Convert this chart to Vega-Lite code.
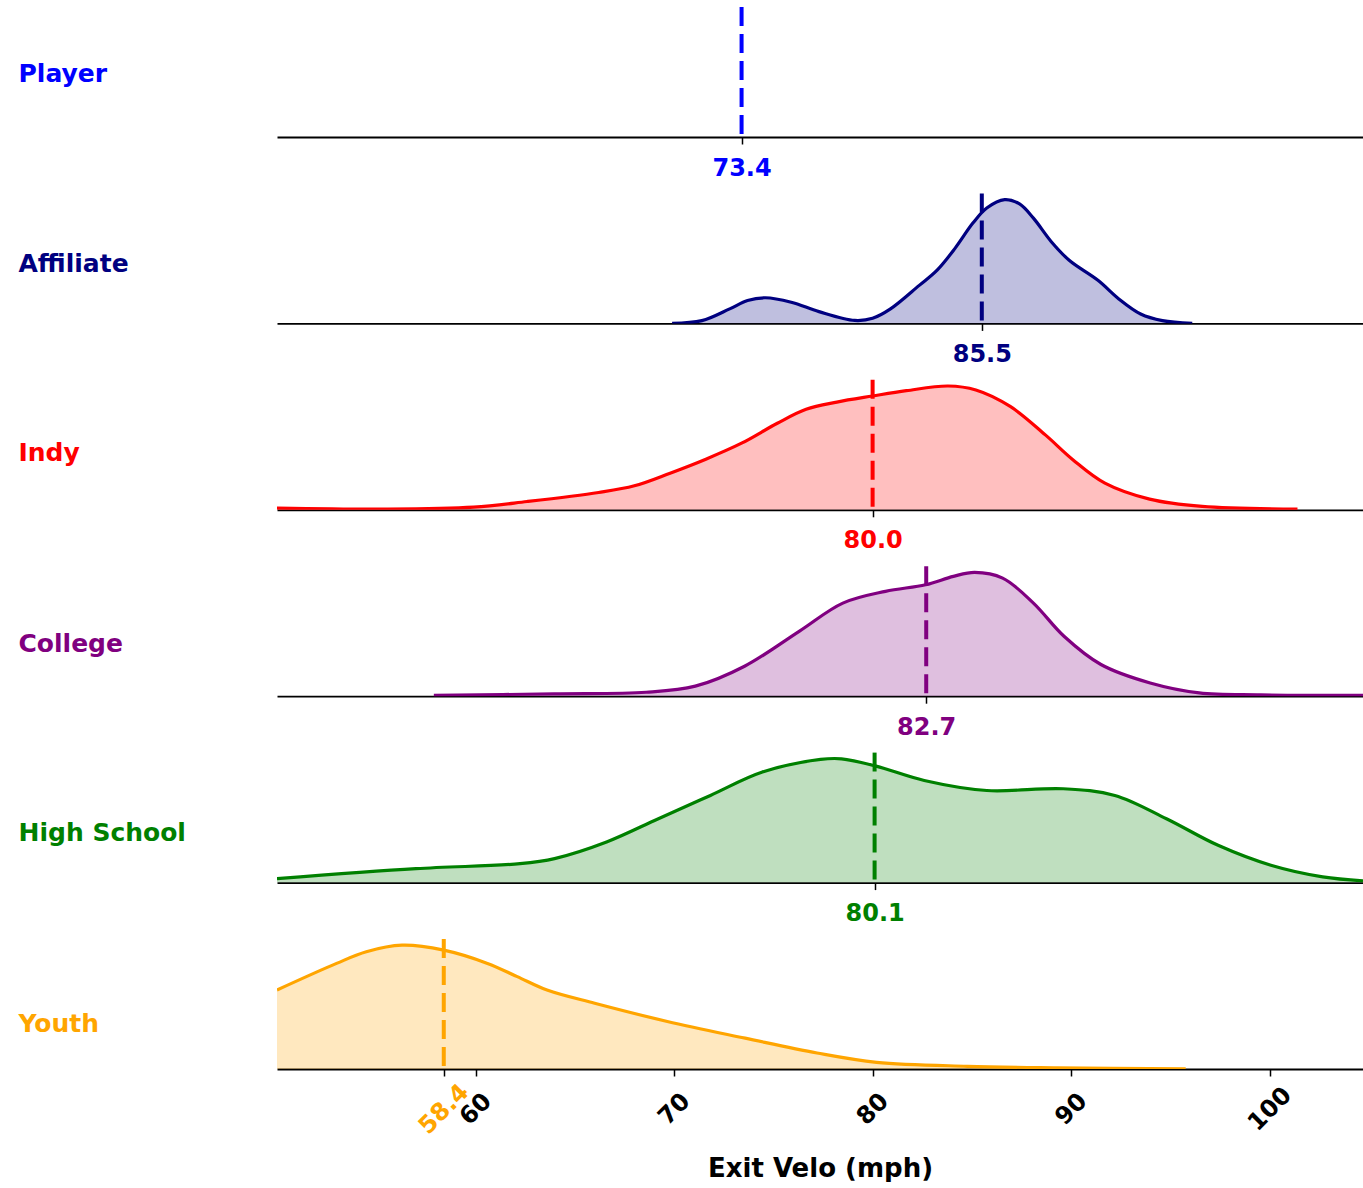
{
  "$schema": "https://vega.github.io/schema/vega-lite/v6.json",
  "padding": {"left": 18, "top": 5, "right": 0, "bottom": 0},
  "background": "white",
  "datasets": {
    "density": [
      {"group": "Affiliate", "mph": 69.9, "density": 0.0},
      {"group": "Affiliate", "mph": 71.4, "density": 0.022},
      {"group": "Affiliate", "mph": 72.8, "density": 0.117},
      {"group": "Affiliate", "mph": 73.7, "density": 0.185},
      {"group": "Affiliate", "mph": 74.6, "density": 0.207},
      {"group": "Affiliate", "mph": 75.9, "density": 0.171},
      {"group": "Affiliate", "mph": 77.3, "density": 0.095},
      {"group": "Affiliate", "mph": 79.1, "density": 0.024},
      {"group": "Affiliate", "mph": 80.0, "density": 0.041},
      {"group": "Affiliate", "mph": 80.9, "density": 0.117},
      {"group": "Affiliate", "mph": 82.35, "density": 0.307},
      {"group": "Affiliate", "mph": 83.25, "density": 0.43},
      {"group": "Affiliate", "mph": 84.15, "density": 0.606},
      {"group": "Affiliate", "mph": 85.05, "density": 0.81},
      {"group": "Affiliate", "mph": 85.75, "density": 0.932},
      {"group": "Affiliate", "mph": 86.65, "density": 1.0},
      {"group": "Affiliate", "mph": 87.4, "density": 0.965},
      {"group": "Affiliate", "mph": 88.1, "density": 0.85},
      {"group": "Affiliate", "mph": 89.0, "density": 0.66},
      {"group": "Affiliate", "mph": 89.9, "density": 0.51},
      {"group": "Affiliate", "mph": 91.35, "density": 0.348},
      {"group": "Affiliate", "mph": 92.4, "density": 0.198},
      {"group": "Affiliate", "mph": 93.5, "density": 0.076},
      {"group": "Affiliate", "mph": 94.6, "density": 0.022},
      {"group": "Affiliate", "mph": 96.1, "density": 0.0},

      {"group": "Indy", "mph": 50.0, "density": 0.014},
      {"group": "Indy", "mph": 55.4, "density": 0.006},
      {"group": "Indy", "mph": 59.9, "density": 0.022},
      {"group": "Indy", "mph": 62.6, "density": 0.067},
      {"group": "Indy", "mph": 66.2, "density": 0.14},
      {"group": "Indy", "mph": 68.0, "density": 0.194},
      {"group": "Indy", "mph": 69.8, "density": 0.296},
      {"group": "Indy", "mph": 71.6, "density": 0.409},
      {"group": "Indy", "mph": 73.4, "density": 0.538},
      {"group": "Indy", "mph": 75.2, "density": 0.699},
      {"group": "Indy", "mph": 76.65, "density": 0.812},
      {"group": "Indy", "mph": 78.2, "density": 0.87},
      {"group": "Indy", "mph": 80.0, "density": 0.919},
      {"group": "Indy", "mph": 81.7, "density": 0.962},
      {"group": "Indy", "mph": 83.8, "density": 1.0},
      {"group": "Indy", "mph": 85.2, "density": 0.968},
      {"group": "Indy", "mph": 86.95, "density": 0.833},
      {"group": "Indy", "mph": 88.7, "density": 0.605},
      {"group": "Indy", "mph": 90.1, "density": 0.403},
      {"group": "Indy", "mph": 91.7, "density": 0.215},
      {"group": "Indy", "mph": 93.95, "density": 0.086},
      {"group": "Indy", "mph": 96.6, "density": 0.027},
      {"group": "Indy", "mph": 101.4, "density": 0.006},

      {"group": "College", "mph": 57.9, "density": 0.006},
      {"group": "College", "mph": 63.96, "density": 0.019},
      {"group": "College", "mph": 68.6, "density": 0.032},
      {"group": "College", "mph": 71.07, "density": 0.081},
      {"group": "College", "mph": 73.55, "density": 0.242},
      {"group": "College", "mph": 76.3, "density": 0.524},
      {"group": "College", "mph": 78.5, "density": 0.752},
      {"group": "College", "mph": 80.65, "density": 0.847},
      {"group": "College", "mph": 82.67, "density": 0.9},
      {"group": "College", "mph": 84.07, "density": 0.968},
      {"group": "College", "mph": 85.14, "density": 1.0},
      {"group": "College", "mph": 86.55, "density": 0.954},
      {"group": "College", "mph": 88.1, "density": 0.752},
      {"group": "College", "mph": 89.64, "density": 0.484},
      {"group": "College", "mph": 91.5, "density": 0.256},
      {"group": "College", "mph": 93.98, "density": 0.107},
      {"group": "College", "mph": 96.45, "density": 0.027},
      {"group": "College", "mph": 99.55, "density": 0.011},
      {"group": "College", "mph": 104.74, "density": 0.006},

      {"group": "High School", "mph": 50.0, "density": 0.032},
      {"group": "High School", "mph": 57.0, "density": 0.113},
      {"group": "High School", "mph": 62.24, "density": 0.153},
      {"group": "High School", "mph": 63.98, "density": 0.194},
      {"group": "High School", "mph": 66.6, "density": 0.328},
      {"group": "High School", "mph": 69.21, "density": 0.516},
      {"group": "High School", "mph": 71.83, "density": 0.704},
      {"group": "High School", "mph": 74.45, "density": 0.893},
      {"group": "High School", "mph": 77.38, "density": 0.995},
      {"group": "High School", "mph": 78.43, "density": 1.0},
      {"group": "High School", "mph": 80.17, "density": 0.941},
      {"group": "High School", "mph": 82.6, "density": 0.825},
      {"group": "High School", "mph": 85.75, "density": 0.744},
      {"group": "High School", "mph": 89.6, "density": 0.758},
      {"group": "High School", "mph": 92.2, "density": 0.704},
      {"group": "High School", "mph": 94.8, "density": 0.516},
      {"group": "High School", "mph": 97.4, "density": 0.301},
      {"group": "High School", "mph": 100.06, "density": 0.14},
      {"group": "High School", "mph": 102.67, "density": 0.046},
      {"group": "High School", "mph": 104.7, "density": 0.014},

      {"group": "Youth", "mph": 50.0, "density": 0.638},
      {"group": "Youth", "mph": 53.0, "density": 0.853},
      {"group": "Youth", "mph": 54.5, "density": 0.947},
      {"group": "Youth", "mph": 56.3, "density": 1.0},
      {"group": "Youth", "mph": 58.4, "density": 0.96},
      {"group": "Youth", "mph": 60.6, "density": 0.853},
      {"group": "Youth", "mph": 62.1, "density": 0.746},
      {"group": "Youth", "mph": 63.6, "density": 0.638},
      {"group": "Youth", "mph": 66.0, "density": 0.531},
      {"group": "Youth", "mph": 69.66, "density": 0.384},
      {"group": "Youth", "mph": 73.58, "density": 0.249},
      {"group": "Youth", "mph": 77.2, "density": 0.129},
      {"group": "Youth", "mph": 80.2, "density": 0.054},
      {"group": "Youth", "mph": 84.77, "density": 0.022},
      {"group": "Youth", "mph": 89.3, "density": 0.01},
      {"group": "Youth", "mph": 95.77, "density": 0.002}
    ],
    "medians": [
      {"group": "Player", "median": 73.4},
      {"group": "Affiliate", "median": 85.5},
      {"group": "Indy", "median": 80.0},
      {"group": "College", "median": 82.7},
      {"group": "High School", "median": 80.1},
      {"group": "Youth", "median": 58.4}
    ]
  },
  "vconcat": [
    {
      "width": 1086, "height": 130,
      "layer": [
        {"data": {"name": "density"}, "transform": [{"filter": "datum.group === 'Player'"}],
         "mark": {"type": "area", "interpolate": "catmull-rom", "clip": true, "color": "#0000FF", "fillOpacity": 0.25, "line": {"color": "#0000FF", "strokeWidth": 3.2}},
         "encoding": {
           "x": {"field": "mph", "type": "quantitative", "scale": {"domain": [50, 104.7], "nice": false, "zero": false},
                 "axis": {"values": [73.4], "format": ".1f", "title": null, "labelAngle": 0, "labelColor": "#0000FF", "labelBaseline": "middle", "labelPadding": 24, "labelFlush": false, "tickSize": 7, "tickColor": "black", "tickWidth": 1.5, "domainColor": "black", "domainWidth": 1.8, "grid": false}},
           "y": {"field": "density", "type": "quantitative", "scale": {"domain": [0, 1.05], "nice": false},
                 "axis": {"title": "Player", "titleColor": "#0000FF", "titleAngle": 0, "titleAlign": "left", "titleBaseline": "middle", "titleX": -259, "titleY": 66, "domain": false, "ticks": false, "labels": false, "grid": false}}
         }},
        {"data": {"name": "medians"}, "transform": [{"filter": "datum.group === 'Player'"}],
         "mark": {"type": "rule", "color": "#0000FF", "strokeWidth": 4, "strokeDash": [19, 8]},
         "encoding": {"x": {"field": "median", "type": "quantitative"}}}
      ]
    },
    {
      "width": 1086, "height": 130,
      "layer": [
        {"data": {"name": "density"}, "transform": [{"filter": "datum.group === 'Affiliate'"}],
         "mark": {"type": "area", "interpolate": "catmull-rom", "clip": true, "color": "#000080", "fillOpacity": 0.25, "line": {"color": "#000080", "strokeWidth": 3.2}},
         "encoding": {
           "x": {"field": "mph", "type": "quantitative", "scale": {"domain": [50, 104.7], "nice": false, "zero": false},
                 "axis": {"values": [85.5], "format": ".1f", "title": null, "labelAngle": 0, "labelColor": "#000080", "labelBaseline": "middle", "labelPadding": 24, "labelFlush": false, "tickSize": 7, "tickColor": "black", "tickWidth": 1.5, "domainColor": "black", "domainWidth": 1.8, "grid": false}},
           "y": {"field": "density", "type": "quantitative", "scale": {"domain": [0, 1.05], "nice": false},
                 "axis": {"title": "Affiliate", "titleColor": "#000080", "titleAngle": 0, "titleAlign": "left", "titleBaseline": "middle", "titleX": -259, "titleY": 70, "domain": false, "ticks": false, "labels": false, "grid": false}}
         }},
        {"data": {"name": "medians"}, "transform": [{"filter": "datum.group === 'Affiliate'"}],
         "mark": {"type": "rule", "color": "#000080", "strokeWidth": 4, "strokeDash": [19, 8]},
         "encoding": {"x": {"field": "median", "type": "quantitative"}}}
      ]
    },
    {
      "width": 1086, "height": 130,
      "layer": [
        {"data": {"name": "density"}, "transform": [{"filter": "datum.group === 'Indy'"}],
         "mark": {"type": "area", "interpolate": "catmull-rom", "clip": true, "color": "#FF0000", "fillOpacity": 0.25, "line": {"color": "#FF0000", "strokeWidth": 3.2}},
         "encoding": {
           "x": {"field": "mph", "type": "quantitative", "scale": {"domain": [50, 104.7], "nice": false, "zero": false},
                 "axis": {"values": [80.0], "format": ".1f", "title": null, "labelAngle": 0, "labelColor": "#FF0000", "labelBaseline": "middle", "labelPadding": 24, "labelFlush": false, "tickSize": 7, "tickColor": "black", "tickWidth": 1.5, "domainColor": "black", "domainWidth": 1.8, "grid": false}},
           "y": {"field": "density", "type": "quantitative", "scale": {"domain": [0, 1.05], "nice": false},
                 "axis": {"title": "Indy", "titleColor": "#FF0000", "titleAngle": 0, "titleAlign": "left", "titleBaseline": "middle", "titleX": -259, "titleY": 73, "domain": false, "ticks": false, "labels": false, "grid": false}}
         }},
        {"data": {"name": "medians"}, "transform": [{"filter": "datum.group === 'Indy'"}],
         "mark": {"type": "rule", "color": "#FF0000", "strokeWidth": 4, "strokeDash": [19, 8]},
         "encoding": {"x": {"field": "median", "type": "quantitative"}}}
      ]
    },
    {
      "width": 1086, "height": 130,
      "layer": [
        {"data": {"name": "density"}, "transform": [{"filter": "datum.group === 'College'"}],
         "mark": {"type": "area", "interpolate": "catmull-rom", "clip": true, "color": "#800080", "fillOpacity": 0.25, "line": {"color": "#800080", "strokeWidth": 3.2}},
         "encoding": {
           "x": {"field": "mph", "type": "quantitative", "scale": {"domain": [50, 104.7], "nice": false, "zero": false},
                 "axis": {"values": [82.7], "format": ".1f", "title": null, "labelAngle": 0, "labelColor": "#800080", "labelBaseline": "middle", "labelPadding": 24, "labelFlush": false, "tickSize": 7, "tickColor": "black", "tickWidth": 1.5, "domainColor": "black", "domainWidth": 1.8, "grid": false}},
           "y": {"field": "density", "type": "quantitative", "scale": {"domain": [0, 1.05], "nice": false},
                 "axis": {"title": "College", "titleColor": "#800080", "titleAngle": 0, "titleAlign": "left", "titleBaseline": "middle", "titleX": -259, "titleY": 77, "domain": false, "ticks": false, "labels": false, "grid": false}}
         }},
        {"data": {"name": "medians"}, "transform": [{"filter": "datum.group === 'College'"}],
         "mark": {"type": "rule", "color": "#800080", "strokeWidth": 4, "strokeDash": [19, 8]},
         "encoding": {"x": {"field": "median", "type": "quantitative"}}}
      ]
    },
    {
      "width": 1086, "height": 130,
      "layer": [
        {"data": {"name": "density"}, "transform": [{"filter": "datum.group === 'High School'"}],
         "mark": {"type": "area", "interpolate": "catmull-rom", "clip": true, "color": "#008000", "fillOpacity": 0.25, "line": {"color": "#008000", "strokeWidth": 3.2}},
         "encoding": {
           "x": {"field": "mph", "type": "quantitative", "scale": {"domain": [50, 104.7], "nice": false, "zero": false},
                 "axis": {"values": [80.1], "format": ".1f", "title": null, "labelAngle": 0, "labelColor": "#008000", "labelBaseline": "middle", "labelPadding": 24, "labelFlush": false, "tickSize": 7, "tickColor": "black", "tickWidth": 1.5, "domainColor": "black", "domainWidth": 1.8, "grid": false}},
           "y": {"field": "density", "type": "quantitative", "scale": {"domain": [0, 1.05], "nice": false},
                 "axis": {"title": "High School", "titleColor": "#008000", "titleAngle": 0, "titleAlign": "left", "titleBaseline": "middle", "titleX": -259, "titleY": 80, "domain": false, "ticks": false, "labels": false, "grid": false}}
         }},
        {"data": {"name": "medians"}, "transform": [{"filter": "datum.group === 'High School'"}],
         "mark": {"type": "rule", "color": "#008000", "strokeWidth": 4, "strokeDash": [19, 8]},
         "encoding": {"x": {"field": "median", "type": "quantitative"}}}
      ]
    },
    {
      "width": 1086, "height": 130,
      "layer": [
        {"data": {"name": "density"}, "transform": [{"filter": "datum.group === 'Youth'"}],
         "mark": {"type": "area", "interpolate": "catmull-rom", "clip": true, "color": "#FFA500", "fillOpacity": 0.25, "line": {"color": "#FFA500", "strokeWidth": 3.2}},
         "encoding": {
           "x": {"field": "mph", "type": "quantitative", "scale": {"domain": [50, 104.7], "nice": false, "zero": false},
                 "axis": {"values": [58.4, 60, 70, 80, 90, 100], "labelExpr": "datum.value === 58.4 ? '58.4' : format(datum.value, '.0f')",
                          "title": "Exit Velo (mph)", "titleColor": "black", "titlePadding": 17, "titleFontSize": 26,
                          "labelAngle": -45, "labelAlign": "center", "labelBaseline": "middle", "labelPadding": 33, "labelOverlap": false, "labelFlush": false, "labelBound": false,
                          "labelColor": {"condition": {"test": "datum.value === 58.4", "value": "#FFA500"}, "value": "black"},
                          "tickSize": 7, "tickColor": "black", "tickWidth": 1.5, "domainColor": "black", "domainWidth": 1.8, "grid": false}},
           "y": {"field": "density", "type": "quantitative", "scale": {"domain": [0, 1.05], "nice": false},
                 "axis": {"title": "Youth", "titleColor": "#FFA500", "titleAngle": 0, "titleAlign": "left", "titleBaseline": "middle", "titleX": -259, "titleY": 84, "domain": false, "ticks": false, "labels": false, "grid": false}}
         }},
        {"data": {"name": "medians"}, "transform": [{"filter": "datum.group === 'Youth'"}],
         "mark": {"type": "rule", "color": "#FFA500", "strokeWidth": 4, "strokeDash": [19, 8]},
         "encoding": {"x": {"field": "median", "type": "quantitative"}}}
      ]
    }
  ],
  "spacing": 56.4,
  "bounds": "flush",
  "config": {
    "view": {"stroke": null},
    "axis": {
      "labelFont": "DejaVu Sans", "labelFontWeight": "bold", "labelFontSize": 24,
      "titleFont": "DejaVu Sans", "titleFontWeight": "bold", "titleFontSize": 25
    }
  }
}
